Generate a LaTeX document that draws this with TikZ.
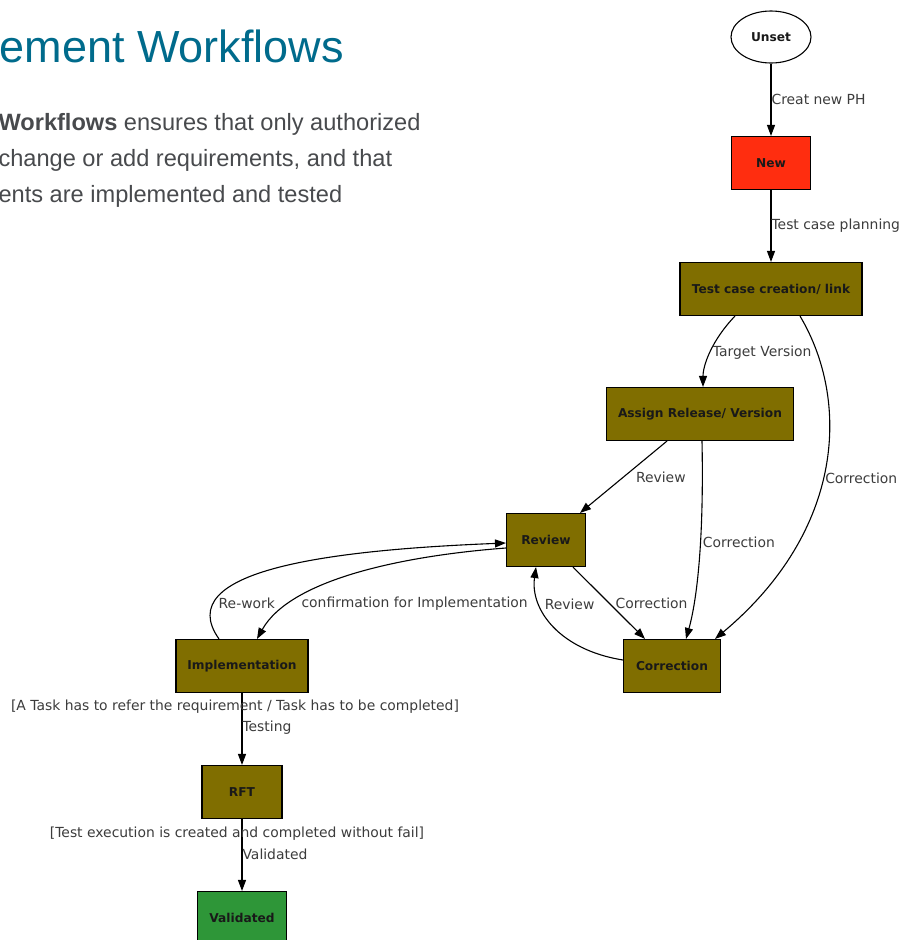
\documentclass[tikz,border=0pt]{standalone}
\usepackage{fontspec}
\setmainfont{Liberation Sans}
\newfontfamily\dvsans{DejaVu Sans}
\usetikzlibrary{shapes.geometric,arrows.meta}

\definecolor{boxolive}{RGB}{128,110,0}
\definecolor{boxred}{RGB}{255,45,15}
\definecolor{boxgreen}{RGB}{46,150,56}
\definecolor{titleteal}{RGB}{0,107,140}
\definecolor{bodygrey}{RGB}{72,74,77}
\definecolor{lblgrey}{RGB}{60,60,60}

\begin{document}
\begin{tikzpicture}
      [x=1pt, y=-1pt, line width=1.1pt,
       >={Triangle[length=11pt,width=8pt]},
       state/.style={draw, fill=boxolive, minimum height=53pt, inner sep=0pt,
                     text=black!90, font=\dvsans\bfseries\fontsize{12.2}{14}\selectfont},
       lbl/.style={inner sep=0pt, text=lblgrey, font=\dvsans\fontsize{13.9}{16}\selectfont},
       intro/.style={anchor=base west, inner sep=0pt, text=bodygrey, font=\fontsize{23.6}{28}\selectfont},
      ]
      \useasboundingbox (0,0) rectangle (903,940);
      \fill[white] (0,0) rectangle (903,940);

      % page text
      \node[anchor=base west, inner sep=0pt, text=titleteal, font=\fontsize{45}{50}\selectfont]
        (title) at (-1,62) {ement Workflows};
      \node[intro] (intro1) at (-2,130) {\textbf{Workflows} ensures that only authorized};
      \node[intro] (intro2) at (-2,166) {change or add requirements, and that};
      \node[intro] (intro3) at (-2,202) {ents are implemented and tested};

      % states
      \node[ellipse, draw, fill=white, minimum width=80pt, minimum height=52pt, inner sep=0pt,
            text=black!90, font=\dvsans\bfseries\fontsize{12.2}{14}\selectfont] (unset) at (771,37) {Unset};
      \node[state, fill=boxred, minimum width=79pt] (new) at (771,163) {New};
      \node[state, minimum width=182pt] (tcc) at (771,289) {Test case creation/ link};
      \node[state, minimum width=187pt] (assign) at (700,414) {Assign Release/ Version};
      \node[state, minimum width=79pt] (review) at (546,540) {Review};
      \node[state, minimum width=97pt] (corr) at (672,666) {Correction};
      \node[state, minimum width=132pt] (impl) at (242,666) {Implementation};
      \node[state, minimum width=80pt] (rft) at (242,792) {RFT};
      \node[state, fill=boxgreen, minimum width=89pt] (valid) at (242,918) {Validated};

      % transitions
      \draw[->] (unset) -- node[lbl, right] {Creat new PH} (new);
      \draw[->] (new) -- node[lbl, right] {Test case planning} (tcc);
      \draw[->] ([xshift=-36pt]tcc.south) .. controls (712,340) and (703,365) .. ([xshift=3pt]assign.north)
        node[lbl, pos=.5, right=2pt] {Target Version};
      \draw[->] ([xshift=29pt]tcc.south) .. controls (850,400) and (845,530) .. ([xshift=43pt]corr.north)
        node[lbl, pos=.53, right=2pt] {Correction};
      \draw[->] ([xshift=-33pt]assign.south) -- node[lbl, right=12pt] {Review} ([xshift=34pt]review.north);
      \draw[->] ([xshift=2pt]assign.south) .. controls (704,540) and (697,600) .. ([xshift=14pt]corr.north)
        node[lbl, pos=.4, right=2pt] {Correction};
      \draw[->] ([xshift=27pt]review.south) -- node[lbl, right=6pt] {Correction} ([xshift=-27pt]corr.north);
      \draw[->] ([yshift=6pt]corr.west) .. controls (560,650) and (530,610) .. ([xshift=-10pt]review.south)
        node[lbl, pos=.7, right=4pt] {Review};
      \draw[->] ([xshift=-23pt]impl.north) .. controls (170,570) and (330,550) .. ([yshift=-3pt]review.west)
        node[lbl, pos=.2, right=5pt] {Re-work};
      \draw[->] ([yshift=-8pt]review.west) .. controls (400,556) and (290,580) .. ([xshift=15pt]impl.north)
        node[lbl, pos=.77, right=10pt] {confirmation for Implementation};
      \draw[->] (impl) -- node[lbl, pos=.19, xshift=-7pt] {[A Task has to refer the requirement / Task has to be completed]}
        node[lbl, pos=.48, right] {Testing} (rft);
      \draw[->] (rft) -- node[lbl, pos=.2, xshift=-5pt] {[Test execution is created and completed without fail]}
        node[lbl, pos=.49, right] {Validated} (valid);
    \end{tikzpicture}
\end{document}
